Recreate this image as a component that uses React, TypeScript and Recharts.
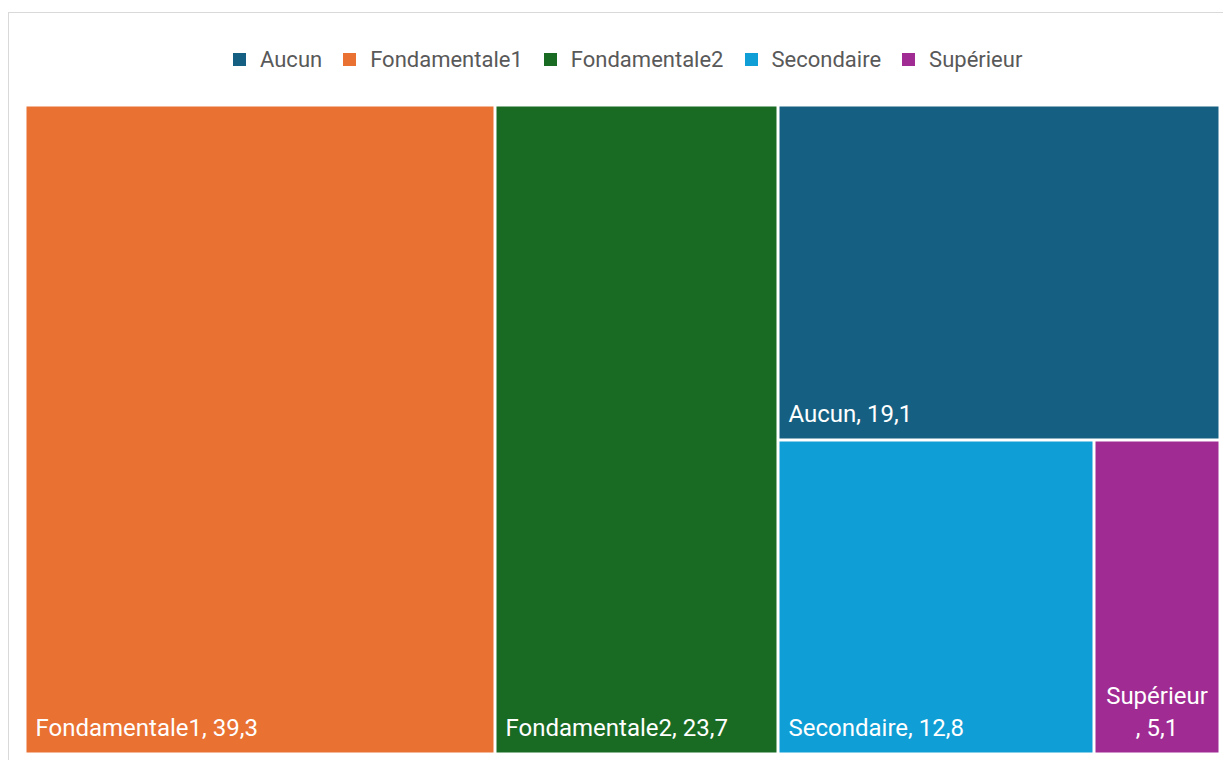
import React from 'react';
import { Treemap } from 'recharts';

// niveau d'instruction (%)
const categories = ['Aucun', 'Fondamentale1', 'Fondamentale2', 'Secondaire', 'Supérieur'];
const values = [19.1, 39.3, 23.7, 12.8, 5.1];

const colors: Record<string, string> = {
  Aucun: '#156082',
  Fondamentale1: '#E97132',
  Fondamentale2: '#196B24',
  Secondaire: '#0F9ED5',
  'Supérieur': '#A02B93',
};

const FONT = 'Roboto, "Noto Sans", sans-serif';

// squarify in recharts keeps the input order, so largest first like Excel
const treeData = categories
  .map((name, i) => ({ name, value: values[i] }))
  .sort((a, b) => b.value - a.value);

const fmt = (v: number) => v.toFixed(1).replace('.', ',');

const Cell = (props: any) => {
  const { x, y, width, height, depth, name, value } = props;
  if (depth !== 1) return null;
  const gap = 1.5;
  const label = `${name}, ${fmt(value)}`;
  const approxWidth = label.length * 12;
  const wrap = approxWidth > width - 20;
  return (
    <g>
      <rect
        x={x + gap}
        y={y + gap}
        width={width - gap * 2}
        height={height - gap * 2}
        fill={colors[name]}
        stroke="none"
      />
      {wrap ? (
        <text
          x={x + width / 2}
          y={y + height - 50}
          fill="#fff"
          fontSize={24}
          fontFamily={FONT}
          textAnchor="middle"
        >
          <tspan x={x + width / 2}>{name}</tspan>
          <tspan x={x + width / 2} dy={32}>{`, ${fmt(value)}`}</tspan>
        </text>
      ) : (
        <text
          x={x + 10.5}
          y={y + height - 18}
          fill="#fff"
          fontSize={24}
          fontFamily={FONT}
        >
          {label}
        </text>
      )}
    </g>
  );
};

const App = () => {
  return (
    <div
      style={{
        position: 'fixed',
        left: 0,
        top: 0,
        width: 1223,
        height: 760,
        overflow: 'hidden',
        background: '#fff',
      }}
    >
      <div
        style={{
          position: 'absolute',
          left: 8,
          top: 12,
          width: 1240,
          height: 770,
          border: '1px solid #d9d9d9',
          fontFamily: FONT,
        }}
      >
        <div
          style={{
            position: 'absolute',
            left: 224,
            top: 34,
            display: 'flex',
            alignItems: 'center',
            fontSize: 22,
            color: '#595959',
            whiteSpace: 'nowrap',
          }}
        >
          {categories.map((c) => (
            <div key={c} style={{ display: 'flex', alignItems: 'center', marginRight: 21 }}>
              <span
                style={{
                  display: 'inline-block',
                  width: 13,
                  height: 13,
                  background: colors[c],
                  marginRight: 14,
                }}
              />
              <span>{c}</span>
            </div>
          ))}
        </div>
        <div style={{ position: 'absolute', left: 15.5, top: 91.5 }}>
          <Treemap
            width={1195}
            height={649}
            data={treeData}
            dataKey="value"
            nameKey="name"
            aspectRatio={0.8}
            isAnimationActive={false}
            content={<Cell />}
          />
        </div>
      </div>
    </div>
  );
};

export default App;
